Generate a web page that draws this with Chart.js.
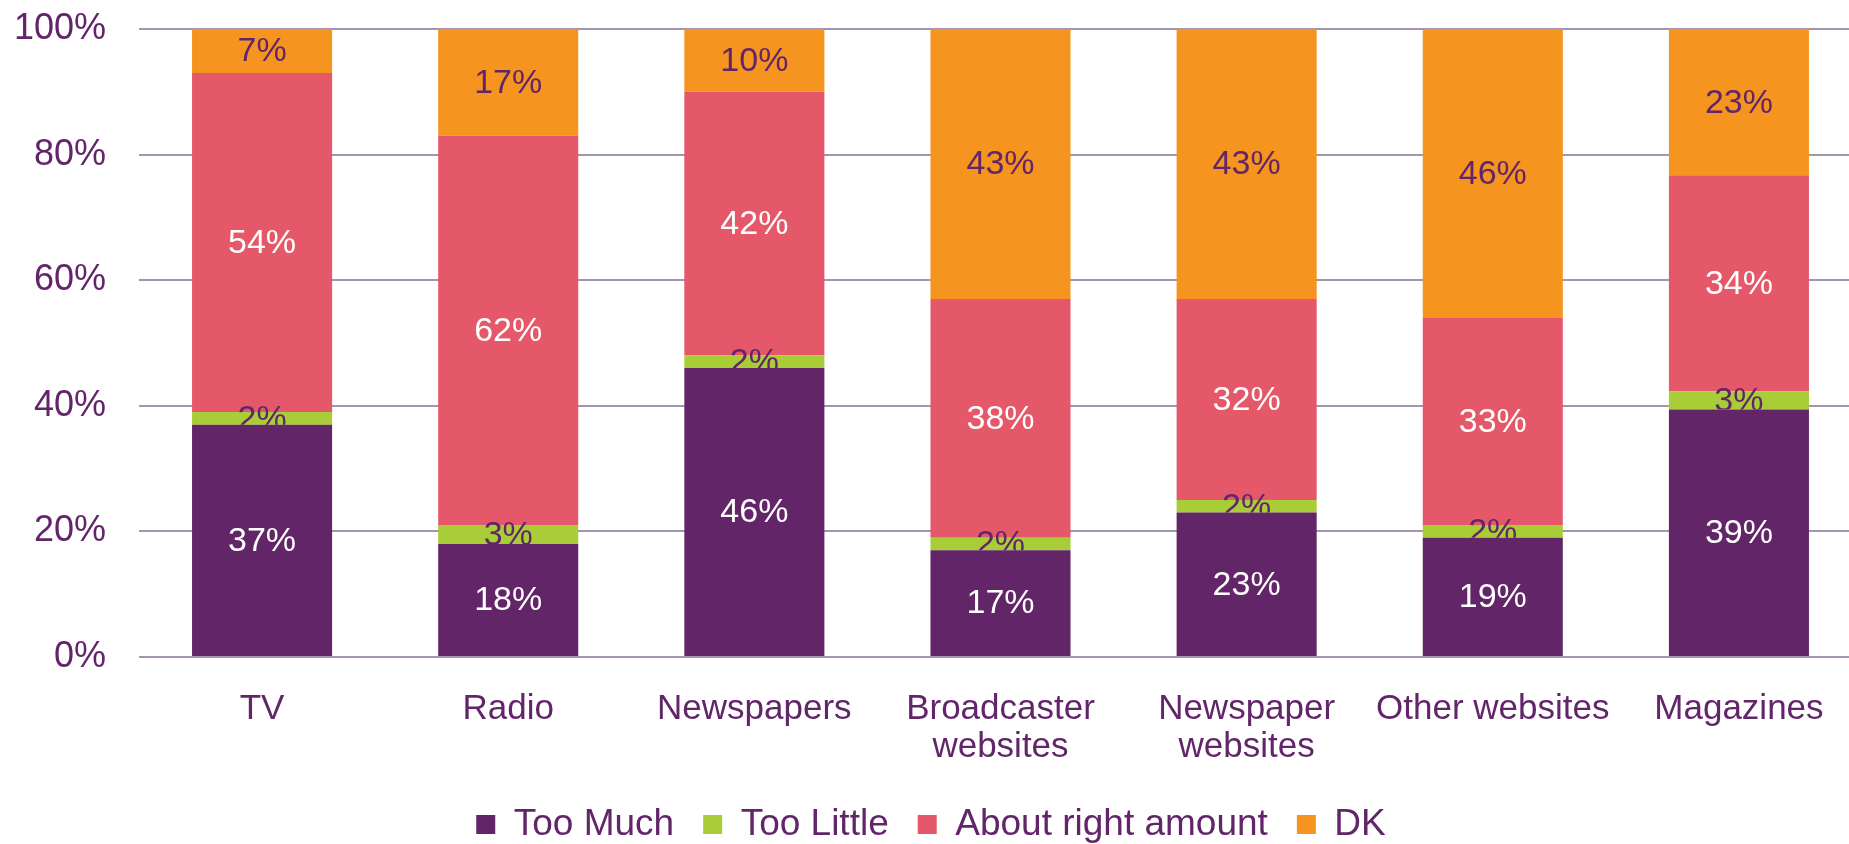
<!DOCTYPE html>
<html>
<head>
<meta charset="utf-8">
<script src="https://cdn.jsdelivr.net/npm/chart.js@4.4.1/dist/chart.umd.min.js"></script>
<style>
  html, body { margin: 0; padding: 0; background: #ffffff; overflow: hidden; }
  #wrap { position: relative; width: 1862px; height: 853px; }
  canvas { display: block; }
</style>
</head>
<body>
<div id="wrap"><canvas id="c" width="1862" height="853"></canvas></div>
<script>
// ---- Data ----
const categories = ['TV', 'Radio', 'Newspapers', ['Broadcaster', 'websites'], ['Newspaper', 'websites'], 'Other websites', 'Magazines'];
const seriesNames = ['Too Much', 'Too Little', 'About right amount', 'DK'];
const tooMuch    = [37, 18, 46, 17, 23, 19, 39.4];
const tooLittle  = [2, 3, 2, 2, 2, 2, 2.9];
const aboutRight = [54, 62, 42, 38, 32, 33, 34.4];
const dontKnow   = [7, 17, 10, 43, 43, 46, 23.3];
const yTickValues = [0, 20, 40, 60, 80, 100];

// ---- Styles ----
const PURPLE = '#622567';
const GREEN = '#A8CD37';
const RED = '#E55869';
const ORANGE = '#F5941F';
const TEXT = '#62256A';
const GRID = '#A594AE';
const FONT = "'Liberation Sans', Arial, sans-serif";

Chart.defaults.font.family = FONT;
Chart.defaults.color = TEXT;

const labelColors = ['#ffffff', TEXT, '#ffffff', TEXT];

const segmentLabels = {
  id: 'segmentLabels',
  afterDatasetsDraw(chart) {
    const ctx = chart.ctx;
    const area = chart.chartArea;
    ctx.save();
    ctx.font = '34px ' + FONT;
    ctx.textAlign = 'center';
    ctx.textBaseline = 'middle';
    chart.data.datasets.forEach((ds, di) => {
      const meta = chart.getDatasetMeta(di);
      meta.data.forEach((el, i) => {
        const v = ds.data[i];
        const cy = (el.y + el.base) / 2;
        ctx.save();
        if (di === 1) {
          // partly hidden behind the segment below, as in the reference
          const below = chart.getDatasetMeta(0).data[i];
          ctx.beginPath();
          ctx.rect(area.left, area.top - 50, area.right - area.left, below.y - area.top + 50);
          ctx.clip();
        }
        ctx.fillStyle = labelColors[di];
        ctx.fillText(Math.round(v) + '%', el.x, cy + 1);
        ctx.restore();
      });
    });
    ctx.restore();
  }
};

new Chart(document.getElementById('c'), {
  type: 'bar',
  data: {
    labels: categories,
    datasets: [
      { label: seriesNames[0], data: tooMuch, backgroundColor: PURPLE },
      { label: seriesNames[1], data: tooLittle, backgroundColor: GREEN },
      { label: seriesNames[2], data: aboutRight, backgroundColor: RED },
      { label: seriesNames[3], data: dontKnow, backgroundColor: ORANGE }
    ]
  },
  options: {
    responsive: false,
    animation: false,
    devicePixelRatio: 1,
    layout: { padding: { top: 29, left: 0, right: 0, bottom: 0 } },
    datasets: { bar: { barPercentage: 0.569, categoryPercentage: 1.0, borderWidth: 0 } },
    plugins: {
      legend: {
        position: 'bottom',
        labels: {
          boxWidth: 19,
          boxHeight: 19,
          padding: 29,
          color: TEXT,
          font: { size: 37, family: FONT }
        }
      },
      tooltip: { enabled: false },
      title: { display: false }
    },
    scales: {
      x: {
        stacked: true,
        grid: { display: false, drawTicks: false },
        border: { display: false },
        ticks: {
          autoSkip: false,
          maxRotation: 0,
          minRotation: 0,
          padding: 33,
          color: TEXT,
          font: { size: 35, family: FONT, lineHeight: 1.086 }
        },
        afterFit(scale) { scale.height = 120; scale.paddingLeft = 0; scale.paddingRight = 0; }
      },
      y: {
        stacked: true,
        min: 0,
        max: 100,
        afterBuildTicks(scale) { scale.ticks = yTickValues.map(v => ({ value: v })); },
        grid: { color: GRID, lineWidth: 2, drawTicks: false },
        border: { display: false },
        ticks: {
          padding: 33,
          color: TEXT,
          font: { size: 36, family: FONT },
          callback: v => v + '%'
        },
        afterFit(scale) { scale.width = 139; scale.paddingTop = 0; scale.paddingBottom = 0; }
      }
    }
  },
  plugins: [segmentLabels]
});
</script>
</body>
</html>
